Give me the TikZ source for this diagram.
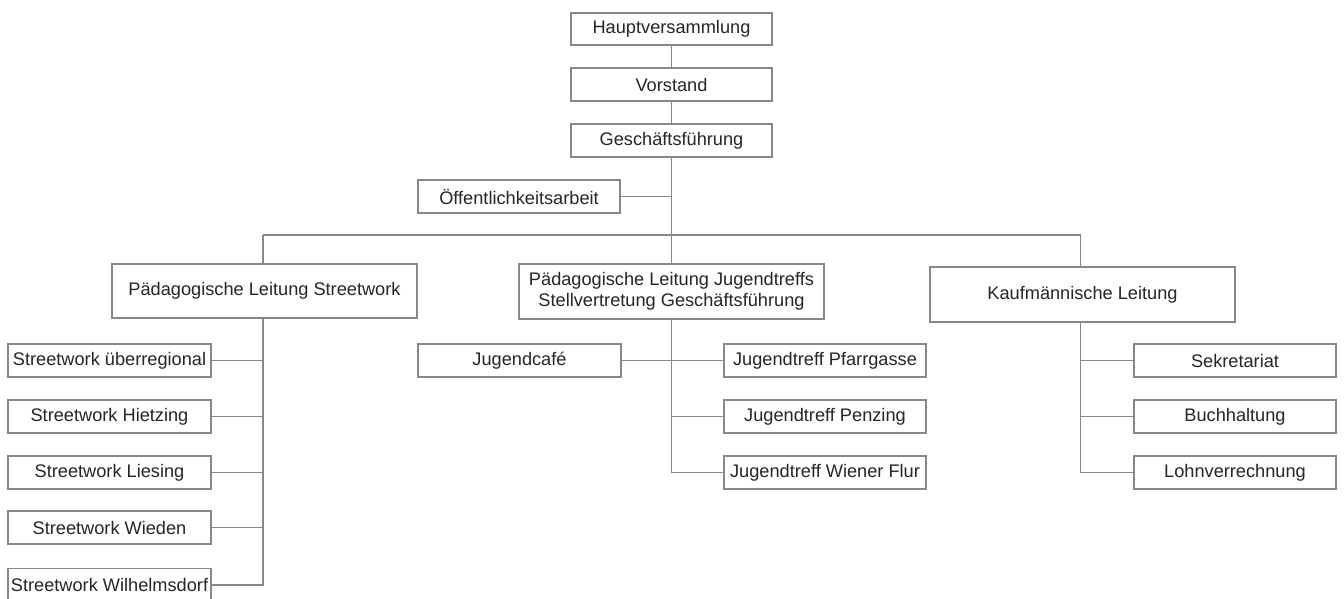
\documentclass[tikz,border=0pt]{standalone}
\usepackage{fontspec}
\setmainfont{Liberation Sans}
\definecolor{linegray}{HTML}{888888}
\definecolor{textgray}{HTML}{262626}
\tikzset{
  box/.style={draw=linegray, line width=1.5pt, fill=white, text=textgray,
    font=\fontsize{18.2}{21.5}\selectfont, align=center, inner sep=0pt,
    minimum width=202pt, minimum height=33pt},
  wide/.style={box, minimum width=305pt, minimum height=55pt},
  conn/.style={draw=linegray, line width=1.5pt}
}
\begin{document}
\begin{tikzpicture}[x=1pt,y=-1pt]
\useasboundingbox[fill=white] (0,0) rectangle (1344,598);
% top chain
\node[box, minimum width=201pt, minimum height=32pt] (haupt) at (671.5,29) {Hauptversammlung};
\node[box, minimum width=201pt] (vorstand) at (671.5,84.5) {Vorstand};
\node[box, minimum width=201pt] (gf) at (671.5,140.5) {Geschäftsführung};
\node[box] (oeff) at (519,196.5) {Öffentlichkeitsarbeit};
% second level
\node[wide, minimum height=54pt] (pls) at (264.5,291) {Pädagogische Leitung Streetwork};
\node[wide] (plj) at (671.5,291.5) {Pädagogische Leitung Jugendtreffs\\[-1pt]Stellvertretung Geschäftsführung};
\node[wide] (kl) at (1082.5,294.5) {Kaufmännische Leitung};
% streetwork
\node[box, minimum width=203pt] (sw1) at (109.5,360.5) {Streetwork überregional};
\node[box, minimum width=203pt] (sw2) at (109.5,416.5) {Streetwork Hietzing};
\node[box, minimum width=203pt] (sw3) at (109.5,472.5) {Streetwork Liesing};
\node[box, minimum width=203pt] (sw4) at (109.5,527.5) {Streetwork Wieden};
\node[box, minimum width=203pt] (sw5) at (109.5,585) {Streetwork Wilhelmsdorf};
% jugendtreffs
\node[box, minimum width=203pt] (jc) at (519.5,360.5) {Jugendcafé};
\node[box] (jt1) at (825,360.5) {Jugendtreff Pfarrgasse};
\node[box] (jt2) at (825,416.5) {Jugendtreff Penzing};
\node[box] (jt3) at (825,472.5) {Jugendtreff Wiener Flur};
% kaufmaennisch
\node[box] (k1) at (1235,360.5) {Sekretariat};
\node[box] (k2) at (1235,416.5) {Buchhaltung};
\node[box] (k3) at (1235,472.5) {Lohnverrechnung};
% coordinates
\coordinate (busL) at (263,235);
\coordinate (busM) at (671.5,235);
\coordinate (busR) at (1080.5,235);
\coordinate (plsdown) at (263,318);
\coordinate (kldown) at (1080.5,322);
% connectors
\draw[conn] (haupt.south) -- (vorstand.north);
\draw[conn] (vorstand.south) -- (gf.north);
\draw[conn] (gf.south) -- (busM) -- (plj.north);
\draw[conn] (oeff.east) -- (oeff.east -| gf.south);
\draw[conn] (busL) -- (busR);
\draw[conn] (busL) -- (busL |- pls.north);
\draw[conn] (busR) -- (busR |- kl.north);
% streetwork connectors
\draw[conn] (plsdown) |- (sw5.east);
\draw[conn] (sw1.east) -- (sw1.east -| plsdown);
\draw[conn] (sw2.east) -- (sw2.east -| plsdown);
\draw[conn] (sw3.east) -- (sw3.east -| plsdown);
\draw[conn] (sw4.east) -- (sw4.east -| plsdown);
% jugendtreff connectors
\draw[conn] (plj.south) |- (jt3.west);
\draw[conn] (jc.east) -- (jt1.west);
\draw[conn] (jt2.west) -- (jt2.west -| plj.south);
% kaufm connectors
\draw[conn] (kldown) |- (k3.west);
\draw[conn] (k1.west) -- (k1.west -| kldown);
\draw[conn] (k2.west) -- (k2.west -| kldown);
\end{tikzpicture}
\end{document}
